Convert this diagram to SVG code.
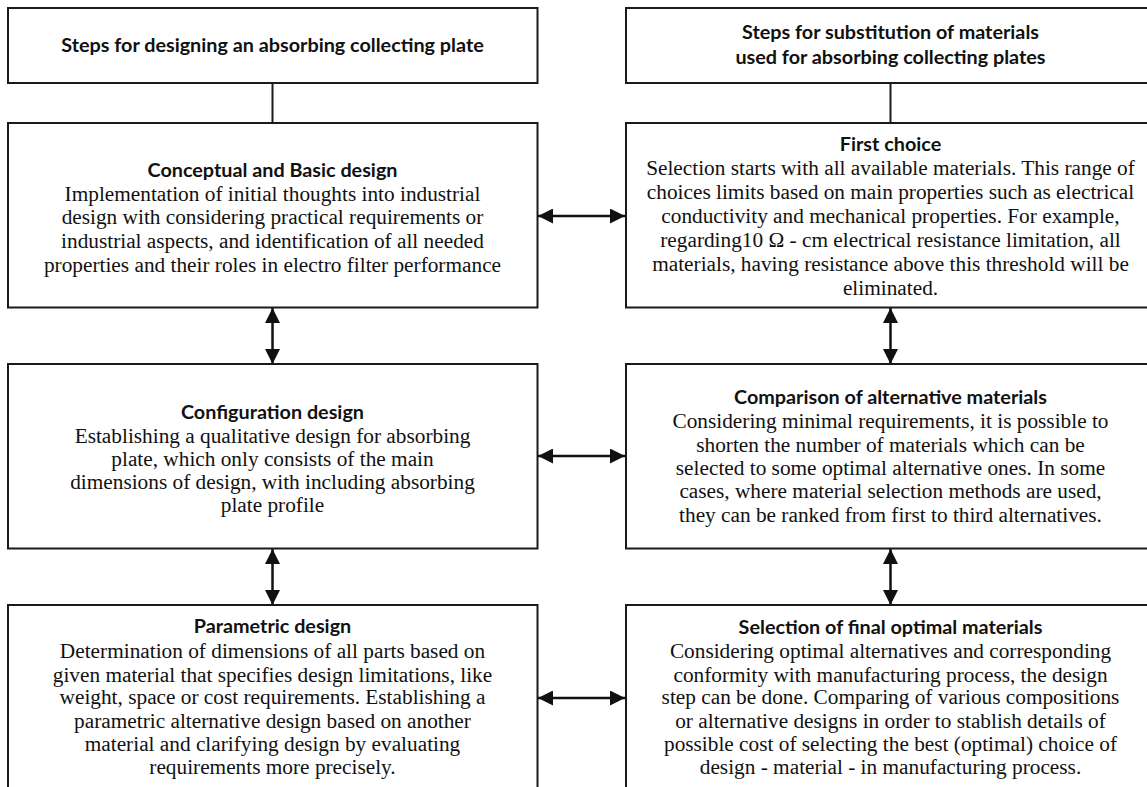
<svg xmlns="http://www.w3.org/2000/svg" width="1147" height="787" viewBox="0 0 1147 787">
<style>
.box{fill:#fff;stroke:#1a1a1a;stroke-width:2}
.hd{font-family:Lato,"Open Sans","Liberation Sans",sans-serif;font-weight:bold;font-size:19.8px;fill:#111;text-anchor:middle}
.tt{font-family:Lato,"Open Sans","Liberation Sans",sans-serif;font-weight:bold;font-size:19.8px;fill:#111;text-anchor:middle}
.bd{font-family:"Liberation Serif","Times New Roman",serif;font-size:21.3px;fill:#111;text-anchor:middle}
.ln{stroke:#1a1a1a;stroke-width:2;fill:none}
.ar{stroke:#111;stroke-width:2.5;fill:none;marker-start:url(#ah);marker-end:url(#ah)}
</style>
<defs>
<marker id="ah" viewBox="0 0 15 15" refX="15" refY="7.5" markerWidth="15" markerHeight="15" markerUnits="userSpaceOnUse" orient="auto-start-reverse">
<path d="M0,0 L15,7.5 L0,15 z" fill="#111"/>
</marker>
</defs>
<rect width="1147" height="787" fill="#fff"/>

<g id="connectors">
<line class="ln" x1="272.5" y1="83" x2="272.5" y2="123"/>
<line class="ln" x1="890.5" y1="83" x2="890.5" y2="123"/>
<line class="ar" x1="272.5" y1="308" x2="272.5" y2="364"/>
<line class="ar" x1="272.5" y1="549" x2="272.5" y2="605"/>
<line class="ar" x1="890.5" y1="308" x2="890.5" y2="364"/>
<line class="ar" x1="890.5" y1="549" x2="890.5" y2="605"/>
<line class="ar" x1="538" y1="216" x2="625" y2="216"/>
<line class="ar" x1="538" y1="456" x2="625" y2="456"/>
<line class="ar" x1="538" y1="698" x2="625" y2="698"/>
</g>

<g id="header-left">
<rect class="box" x="8" y="8" width="529.5" height="75"/>
<text class="hd" x="272.5" y="52">Steps for designing an absorbing collecting plate</text>
</g>

<g id="header-right">
<rect class="box" x="626" y="8" width="529" height="75"/>
<text class="hd" x="890.5" y="39">Steps for substitution of materials</text>
<text class="hd" x="890.5" y="64">used for absorbing collecting plates</text>
</g>

<g id="conceptual">
<rect class="box" x="8" y="123" width="529.5" height="184.5"/>
<text class="tt" x="272.5" y="177">Conceptual and Basic design</text>
<text class="bd" x="272.5" y="201">Implementation of initial thoughts into industrial</text>
<text class="bd" x="272.5" y="224">design with considering practical requirements or</text>
<text class="bd" x="272.5" y="247.5">industrial aspects, and identification of all needed</text>
<text class="bd" x="272.5" y="271.5">properties and their roles in electro filter performance</text>
</g>

<g id="first-choice">
<rect class="box" x="626" y="123" width="529" height="184.5"/>
<text class="tt" x="890.5" y="151">First choice</text>
<text class="bd" x="890.5" y="175">Selection starts with all available materials. This range of</text>
<text class="bd" x="890.5" y="199">choices limits based on main properties such as electrical</text>
<text class="bd" x="890.5" y="222.5">conductivity and mechanical properties. For example,</text>
<text class="bd" x="890.5" y="247">regarding10 Ω - cm electrical resistance limitation, all</text>
<text class="bd" x="890.5" y="271">materials, having resistance above this threshold will be</text>
<text class="bd" x="890.5" y="294.5">eliminated.</text>
</g>

<g id="configuration">
<rect class="box" x="8" y="364" width="529.5" height="184.5"/>
<text class="tt" x="272.5" y="418.5">Configuration design</text>
<text class="bd" x="272.5" y="443">Establishing a qualitative design for absorbing</text>
<text class="bd" x="272.5" y="466">plate, which only consists of the main</text>
<text class="bd" x="272.5" y="489">dimensions of design, with including absorbing</text>
<text class="bd" x="272.5" y="512">plate profile</text>
</g>

<g id="comparison">
<rect class="box" x="626" y="364" width="529" height="184.5"/>
<text class="tt" x="890.5" y="403.5">Comparison of alternative materials</text>
<text class="bd" x="890.5" y="428">Considering minimal requirements, it is possible to</text>
<text class="bd" x="890.5" y="451.5">shorten the number of materials which can be</text>
<text class="bd" x="890.5" y="475">selected to some optimal alternative ones. In some</text>
<text class="bd" x="890.5" y="498">cases, where material selection methods are used,</text>
<text class="bd" x="890.5" y="521.5">they can be ranked from first to third alternatives.</text>
</g>

<g id="parametric">
<rect class="box" x="8" y="605" width="529.5" height="200"/>
<text class="tt" x="272.5" y="633">Parametric design</text>
<text class="bd" x="272.5" y="658">Determination of dimensions of all parts based on</text>
<text class="bd" x="272.5" y="681.5">given material that specifies design limitations, like</text>
<text class="bd" x="272.5" y="704">weight, space or cost requirements. Establishing a</text>
<text class="bd" x="272.5" y="728">parametric alternative design based on another</text>
<text class="bd" x="272.5" y="750.5">material and clarifying design by evaluating</text>
<text class="bd" x="272.5" y="773.5">requirements more precisely.</text>
</g>

<g id="selection">
<rect class="box" x="626" y="605" width="529" height="200"/>
<text class="tt" x="890.5" y="634">Selection of final optimal materials</text>
<text class="bd" x="890.5" y="658">Considering optimal alternatives and corresponding</text>
<text class="bd" x="890.5" y="681.5">conformity with manufacturing process, the design</text>
<text class="bd" x="890.5" y="704">step can be done. Comparing of various compositions</text>
<text class="bd" x="890.5" y="728">or alternative designs in order to stablish details of</text>
<text class="bd" x="890.5" y="750.5">possible cost of selecting the best (optimal) choice of</text>
<text class="bd" x="890.5" y="773.5">design - material - in manufacturing process.</text>
</g>
</svg>
